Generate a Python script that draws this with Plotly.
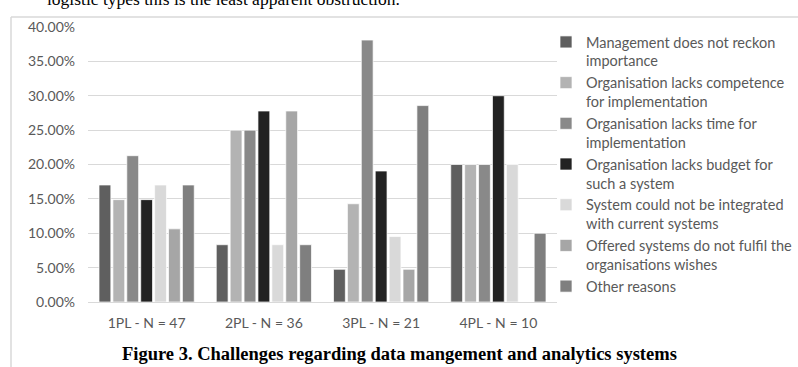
import plotly.graph_objects as go

categories = ["1PL - N = 47", "2PL - N = 36", "3PL - N = 21", "4PL - N = 10"]

series_names = [
    "Management does not reckon<br>importance",
    "Organisation lacks competence<br>for implementation",
    "Organisation lacks time for<br>implementation",
    "Organisation lacks budget for<br>such a system",
    "System could not be integrated<br>with current systems",
    "Offered systems do not fulfil the<br>organisations wishes",
    "Other reasons",
]

management = [0.1702, 0.0833, 0.0476, 0.20]
competence = [0.1489, 0.25, 0.1429, 0.20]
time_lack = [0.2128, 0.25, 0.3810, 0.20]
budget = [0.1489, 0.2778, 0.1905, 0.30]
integration = [0.1702, 0.0833, 0.0952, 0.20]
offered = [0.1064, 0.2778, 0.0476, 0.0]
other = [0.1702, 0.0833, 0.2857, 0.10]

series_values = [management, competence, time_lack, budget, integration, offered, other]
colors = ["#5f5f5f", "#b3b3b3", "#898989", "#222222", "#d9d9d9", "#a6a6a6", "#7f7f7f"]

W, H = 798, 367
L, R, T, B = 88, 241, 27, 65
pw = W - L - R
ph = H - T - B

def px_x(x):
    return (x - L) / pw

def px_y(y):
    return (H - B - y) / ph

fig = go.Figure()
for name, vals, col in zip(series_names, series_values, colors):
    fig.add_trace(go.Bar(
        x=categories, y=vals, name=name,
        marker=dict(color=col, line=dict(color="rgba(255,255,255,0.7)", width=1)),
    ))

font_main = "Lato, 'Open Sans', sans-serif"

fig.update_layout(
    width=W, height=H,
    margin=dict(l=L, r=R, t=T, b=B, autoexpand=False),
    paper_bgcolor="white", plot_bgcolor="white",
    barmode="group", bargap=0.17, bargroupgap=0.15,
    font=dict(family=font_main, size=14, color="#595959"),
    showlegend=True,
    legend=dict(
        x=px_x(546), xanchor="left", y=px_y(26), yanchor="top",
        valign="top", font=dict(family=font_main, size=14.5, color="#595959"),
        bgcolor="rgba(0,0,0,0)", traceorder="normal", maxheight=500,
    ),
    xaxis=dict(
        automargin=False,
        showgrid=False, showline=True, linecolor="#d9d9d9", linewidth=1,
        ticks="", tickfont=dict(size=14, color="#595959"), ticklabelstandoff=8,
    ),
    yaxis=dict(
        automargin=False,
        range=[0, 0.4], dtick=0.05, tickformat=".2%",
        showgrid=True, gridcolor="#d9d9d9", gridwidth=1,
        zeroline=False, showline=False, ticks="",
        tickfont=dict(size=14, color="#595959"), ticklabelstandoff=12,
    ),
)

# frame lines
fig.add_shape(type="line", xref="paper", yref="paper",
              x0=px_x(11), x1=px_x(11), y0=px_y(17), y1=px_y(H + 5),
              line=dict(color="#d9d9d9", width=1.5))
fig.add_shape(type="line", xref="paper", yref="paper",
              x0=px_x(11), x1=px_x(W + 5), y0=px_y(17), y1=px_y(17),
              line=dict(color="#d9d9d9", width=1.5))

fig.add_annotation(
    text="logistic types this is the least apparent obstruction.",
    xref="paper", yref="paper", x=px_x(45), y=px_y(-1),
    xanchor="left", yanchor="middle", showarrow=False,
    font=dict(family="'Liberation Serif', 'Times New Roman', serif", size=17.5, color="black"),
)
fig.add_annotation(
    text="<b>Figure 3. Challenges regarding data mangement and analytics systems</b>",
    xref="paper", yref="paper", x=px_x(399), y=px_y(354),
    xanchor="center", yanchor="middle", showarrow=False,
    font=dict(family="'Liberation Serif', 'Times New Roman', serif", size=18.5, color="black"),
)

fig.write_html("out.html", config={"displayModeBar": False},
               post_script="document.body.style.margin='0';")
